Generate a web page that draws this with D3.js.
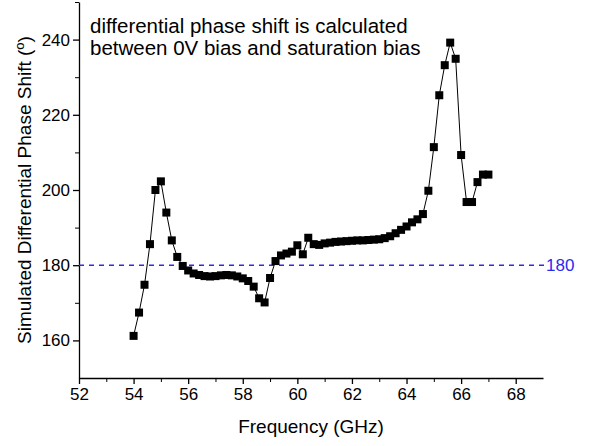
<!DOCTYPE html>
<html>
<head>
<meta charset="utf-8">
<script src="https://cdn.jsdelivr.net/npm/d3@7"></script>
<style>
  body { margin: 0; background: #fff; }
  svg { font-family: "Liberation Sans", Arial, sans-serif; }
</style>
</head>
<body>
<div id="chart"></div>
<script>
// frequency points (GHz)
var freq = [54.0, 54.2, 54.4, 54.6, 54.8, 55.0, 55.2, 55.4, 55.6, 55.8,
            56.0, 56.2, 56.4, 56.6, 56.8, 57.0, 57.2, 57.4, 57.6, 57.8,
            58.0, 58.2, 58.4, 58.6, 58.8, 59.0, 59.2, 59.4, 59.6, 59.8,
            60.0, 60.2, 60.4, 60.6, 60.8, 61.0, 61.2, 61.4, 61.6, 61.8,
            62.0, 62.2, 62.4, 62.6, 62.8, 63.0, 63.2, 63.4, 63.6, 63.8,
            64.0, 64.2, 64.4, 64.6, 64.8, 65.0, 65.2, 65.4, 65.6, 65.8,
            66.0, 66.2, 66.4, 66.6, 66.8, 67.0];
// simulated differential phase shift (deg)
var phase = [161.2, 167.4, 174.8, 185.6, 200.0, 202.3, 194.0, 186.6, 182.2, 179.8,
             178.6, 177.8, 177.4, 177.1, 177.0, 177.1, 177.3, 177.4, 177.3, 177.0,
             176.5, 175.8, 174.3, 171.2, 170.1, 176.6, 181.1, 182.6, 183.1, 183.6,
             185.3, 182.9, 187.3, 185.6, 185.4, 185.8, 186.0, 186.2, 186.3, 186.4,
             186.5, 186.6, 186.6, 186.7, 186.8, 186.9, 187.2, 187.7, 188.5, 189.4,
             190.3, 191.4, 192.2, 193.6, 199.8, 211.4, 225.2, 233.2, 239.2, 234.9,
             209.3, 196.8, 196.8, 202.1, 204.1, 204.1];
var xTicks = [52, 54, 56, 58, 60, 62, 64, 66, 68];
var yTicks = [160, 180, 200, 220, 240];
var refValue = 180;
var note = ["differential phase shift is calculated",
            "between 0V bias and saturation bias"];

var width = 597, height = 446;
var svg = d3.select("#chart").append("svg")
    .attr("width", width)
    .attr("height", height);

var x = d3.scaleLinear().domain([52, 69]).range([79, 543]);
var y = d3.scaleLinear().domain([150, 250]).range([378, 2]);

// minor ticks
svg.append("g")
    .attr("transform", "translate(0," + y(150) + ")")
    .call(d3.axisBottom(x).tickValues(d3.range(53, 69, 2)).tickSize(4).tickFormat(""))
    .call(function(g) { g.select(".domain").remove(); });
svg.append("g")
    .attr("transform", "translate(" + x(52) + ",0)")
    .call(d3.axisLeft(y).tickValues([170, 190, 210, 230, 250]).tickSize(4).tickFormat(""))
    .call(function(g) { g.select(".domain").remove(); });

var xAxis = svg.append("g")
    .attr("transform", "translate(0," + y(150) + ")")
    .call(d3.axisBottom(x).tickValues(xTicks).tickSize(6).tickSizeOuter(0).tickPadding(4));
var yAxis = svg.append("g")
    .attr("transform", "translate(" + x(52) + ",0)")
    .call(d3.axisLeft(y).tickValues(yTicks).tickSize(6).tickSizeOuter(0).tickPadding(3));

[xAxis, yAxis].forEach(function(g) {
  g.selectAll("text").attr("font-size", 17).attr("fill", "#000")
      .attr("font-family", "Liberation Sans, Arial, sans-serif");
  g.selectAll("line,path").attr("stroke", "#000").attr("stroke-width", 1.3);
});

// reference line at 180
svg.append("line")
    .attr("x1", x(52)).attr("x2", 545)
    .attr("y1", y(refValue)).attr("y2", y(refValue))
    .attr("stroke", "#2a2af0")
    .attr("stroke-width", 1.4)
    .attr("stroke-dasharray", "5,5");
svg.append("text")
    .attr("x", 546).attr("y", y(refValue) + 6)
    .attr("font-size", 17)
    .attr("fill", "#2a2af0")
    .text(refValue);

var pts = freq.map(function(f, i) { return [f, phase[i]]; });

svg.append("path")
    .datum(pts)
    .attr("fill", "none")
    .attr("stroke", "#000")
    .attr("stroke-width", 1)
    .attr("d", d3.line().x(function(d) { return x(d[0]); }).y(function(d) { return y(d[1]); }));

svg.append("g").selectAll("rect")
    .data(pts)
    .enter().append("rect")
    .attr("x", function(d) { return x(d[0]) - 4; })
    .attr("y", function(d) { return y(d[1]) - 4; })
    .attr("width", 8)
    .attr("height", 8)
    .attr("fill", "#000");

// note text
svg.append("g").selectAll("text")
    .data(note)
    .enter().append("text")
    .attr("x", 90)
    .attr("y", function(d, i) { return 33 + i * 22; })
    .attr("font-size", 20.5)
    .attr("fill", "#000")
    .text(function(d) { return d; });

// axis titles
svg.append("text")
    .attr("x", 311)
    .attr("y", 433)
    .attr("text-anchor", "middle")
    .attr("font-size", 19)
    .text("Frequency (GHz)");

var yt = svg.append("text")
    .attr("transform", "translate(30.5,190) rotate(-90)")
    .attr("text-anchor", "middle")
    .attr("font-size", 19);
yt.append("tspan").text("Simulated Differential Phase Shift (");
yt.append("tspan").attr("font-size", 13).attr("dy", -7).text("o");
yt.append("tspan").attr("dy", 7).text(")");
</script>
</body>
</html>
